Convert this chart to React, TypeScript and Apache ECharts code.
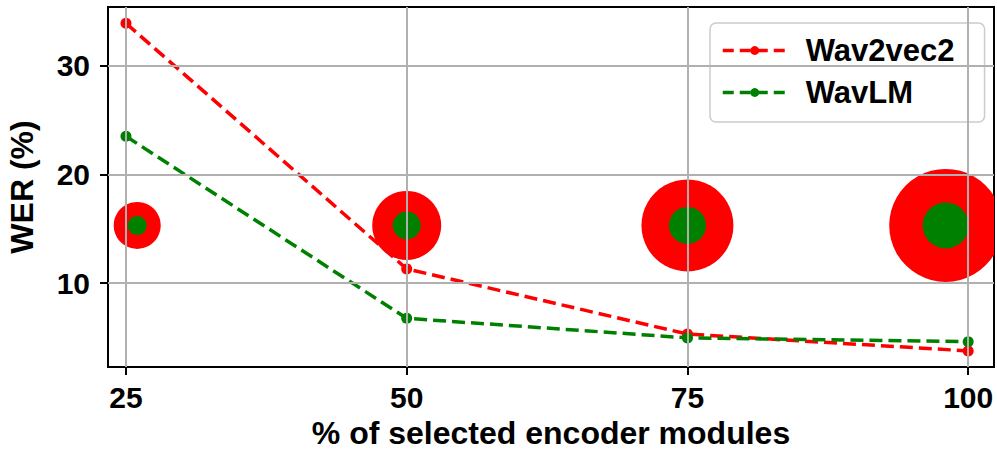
import React, { useEffect, useRef } from "react";
import * as echarts from "echarts";

const xTicks = [25, 50, 75, 100];
const yTicks = [10, 20, 30];
const modules = [25, 50, 75, 100];
const wav2vec2 = [33.9, 11.3, 5.3, 3.75];
const wavlm = [23.5, 6.75, 4.95, 4.6];
const bubbleX = [26, 50, 75, 98];
const bubbleY = [15.3, 15.3, 15.3, 15.3];
const bubbleOuter = [47, 69, 92, 113];
const bubbleInner = [19, 28, 37, 46];

const FONT = "'Liberation Sans', Arial, sans-serif";

export default function App() {
  const ref = useRef<HTMLDivElement>(null);
  useEffect(() => {
    document.body.style.margin = "0";
    const chart = echarts.init(ref.current!, null, { renderer: "svg" });
    const bubbles = bubbleX.map((x, i) => [x, bubbleY[i], bubbleOuter[i], bubbleInner[i]]);
    chart.setOption({
      animation: false,
      backgroundColor: "#ffffff",
      grid: {
        left: 108,
        right: 3,
        top: 7,
        bottom: 85,
        outerBoundsMode: "none",
        containLabel: false,
        show: true,
        borderColor: "#000",
        borderWidth: 2,
        backgroundColor: "transparent",
      },
      xAxis: {
        type: "value",
        min: 23.4,
        max: 102.3,
        name: "% of selected encoder modules",
        nameLocation: "middle",
        nameGap: 49,
        nameTextStyle: { fontFamily: FONT, fontWeight: "bold", fontSize: 32, lineHeight: 31, color: "#000" },
        axisLine: { show: false },
        axisTick: { show: true, inside: false, length: 8, customValues: xTicks, lineStyle: { color: "#000", width: 2 } },
        axisLabel: { customValues: xTicks, margin: 15, fontFamily: FONT, fontWeight: "bold", fontSize: 30, color: "#000" },
        splitLine: { show: false },
      },
      yAxis: {
        type: "value",
        min: 2.27,
        max: 35.4,
        name: "WER (%)",
        nameLocation: "middle",
        nameGap: 70,
        nameTextStyle: { fontFamily: FONT, fontWeight: "bold", fontSize: 32, color: "#000" },
        axisLine: { show: false },
        axisTick: { show: true, inside: false, length: 8, customValues: yTicks, lineStyle: { color: "#000", width: 2 } },
        axisLabel: { customValues: yTicks, margin: 18, fontFamily: FONT, fontWeight: "bold", fontSize: 30, color: "#000" },
        splitLine: { show: false },
      },
      legend: {
        orient: "vertical",
        left: 710,
        top: 23,
        padding: [12, 30, 14, 11],
        backgroundColor: "rgba(255,255,255,0.85)",
        borderColor: "#cccccc",
        borderWidth: 1.5,
        borderRadius: 6,
        itemWidth: 64,
        itemHeight: 11,
        itemGap: 11,
        lineStyle: { width: 3.5, type: [11, 6] },
        data: ["Wav2vec2", "WavLM"],
        textStyle: { fontFamily: FONT, fontWeight: "bold", fontSize: 31, color: "#000", padding: [0, 0, 0, 14] },
      },
      series: [
        {
          type: "custom",
          name: "bubbles",
          z: 1,
          clip: true,
          data: bubbles,
          renderItem: (params: any, api: any) => {
            const p = api.coord([api.value(0), api.value(1)]);
            const ro = api.value(2) / 2;
            const ri = api.value(3) / 2;
            return {
              type: "group",
              children: [
                { type: "circle", shape: { cx: p[0], cy: p[1], r: ro }, style: { fill: "#ff0000" } },
                { type: "circle", shape: { cx: p[0], cy: p[1], r: ri }, style: { fill: "#008000" } },
              ],
            };
          },
        },
        {
          type: "line",
          name: "gridlines",
          z: 2,
          data: [],
          silent: true,
          markLine: {
            silent: true,
            symbol: ["none", "none"],
            label: { show: false },
            lineStyle: { color: "#b0b0b0", width: 2, type: "solid" },
            data: [
              ...xTicks.map((v) => ({ xAxis: v })),
              ...yTicks.map((v) => ({ yAxis: v })),
            ],
          },
        },
        {
          type: "line",
          name: "Wav2vec2",
          z: 3,
          data: modules.map((m, i) => [m, wav2vec2[i]]),
          color: "#ff0000",
          symbol: "circle",
          symbolSize: 11,
          lineStyle: { color: "#ff0000", width: 3.5, type: [13, 6] },
          itemStyle: { color: "#ff0000" },
        },
        {
          type: "line",
          name: "WavLM",
          z: 3,
          data: modules.map((m, i) => [m, wavlm[i]]),
          color: "#008000",
          symbol: "circle",
          symbolSize: 11,
          lineStyle: { color: "#008000", width: 3.5, type: [13, 6] },
          itemStyle: { color: "#008000" },
        },
      ],
    });
    return () => chart.dispose();
  }, []);
  return <div ref={ref} style={{ width: 997, height: 452 }} />;
}
